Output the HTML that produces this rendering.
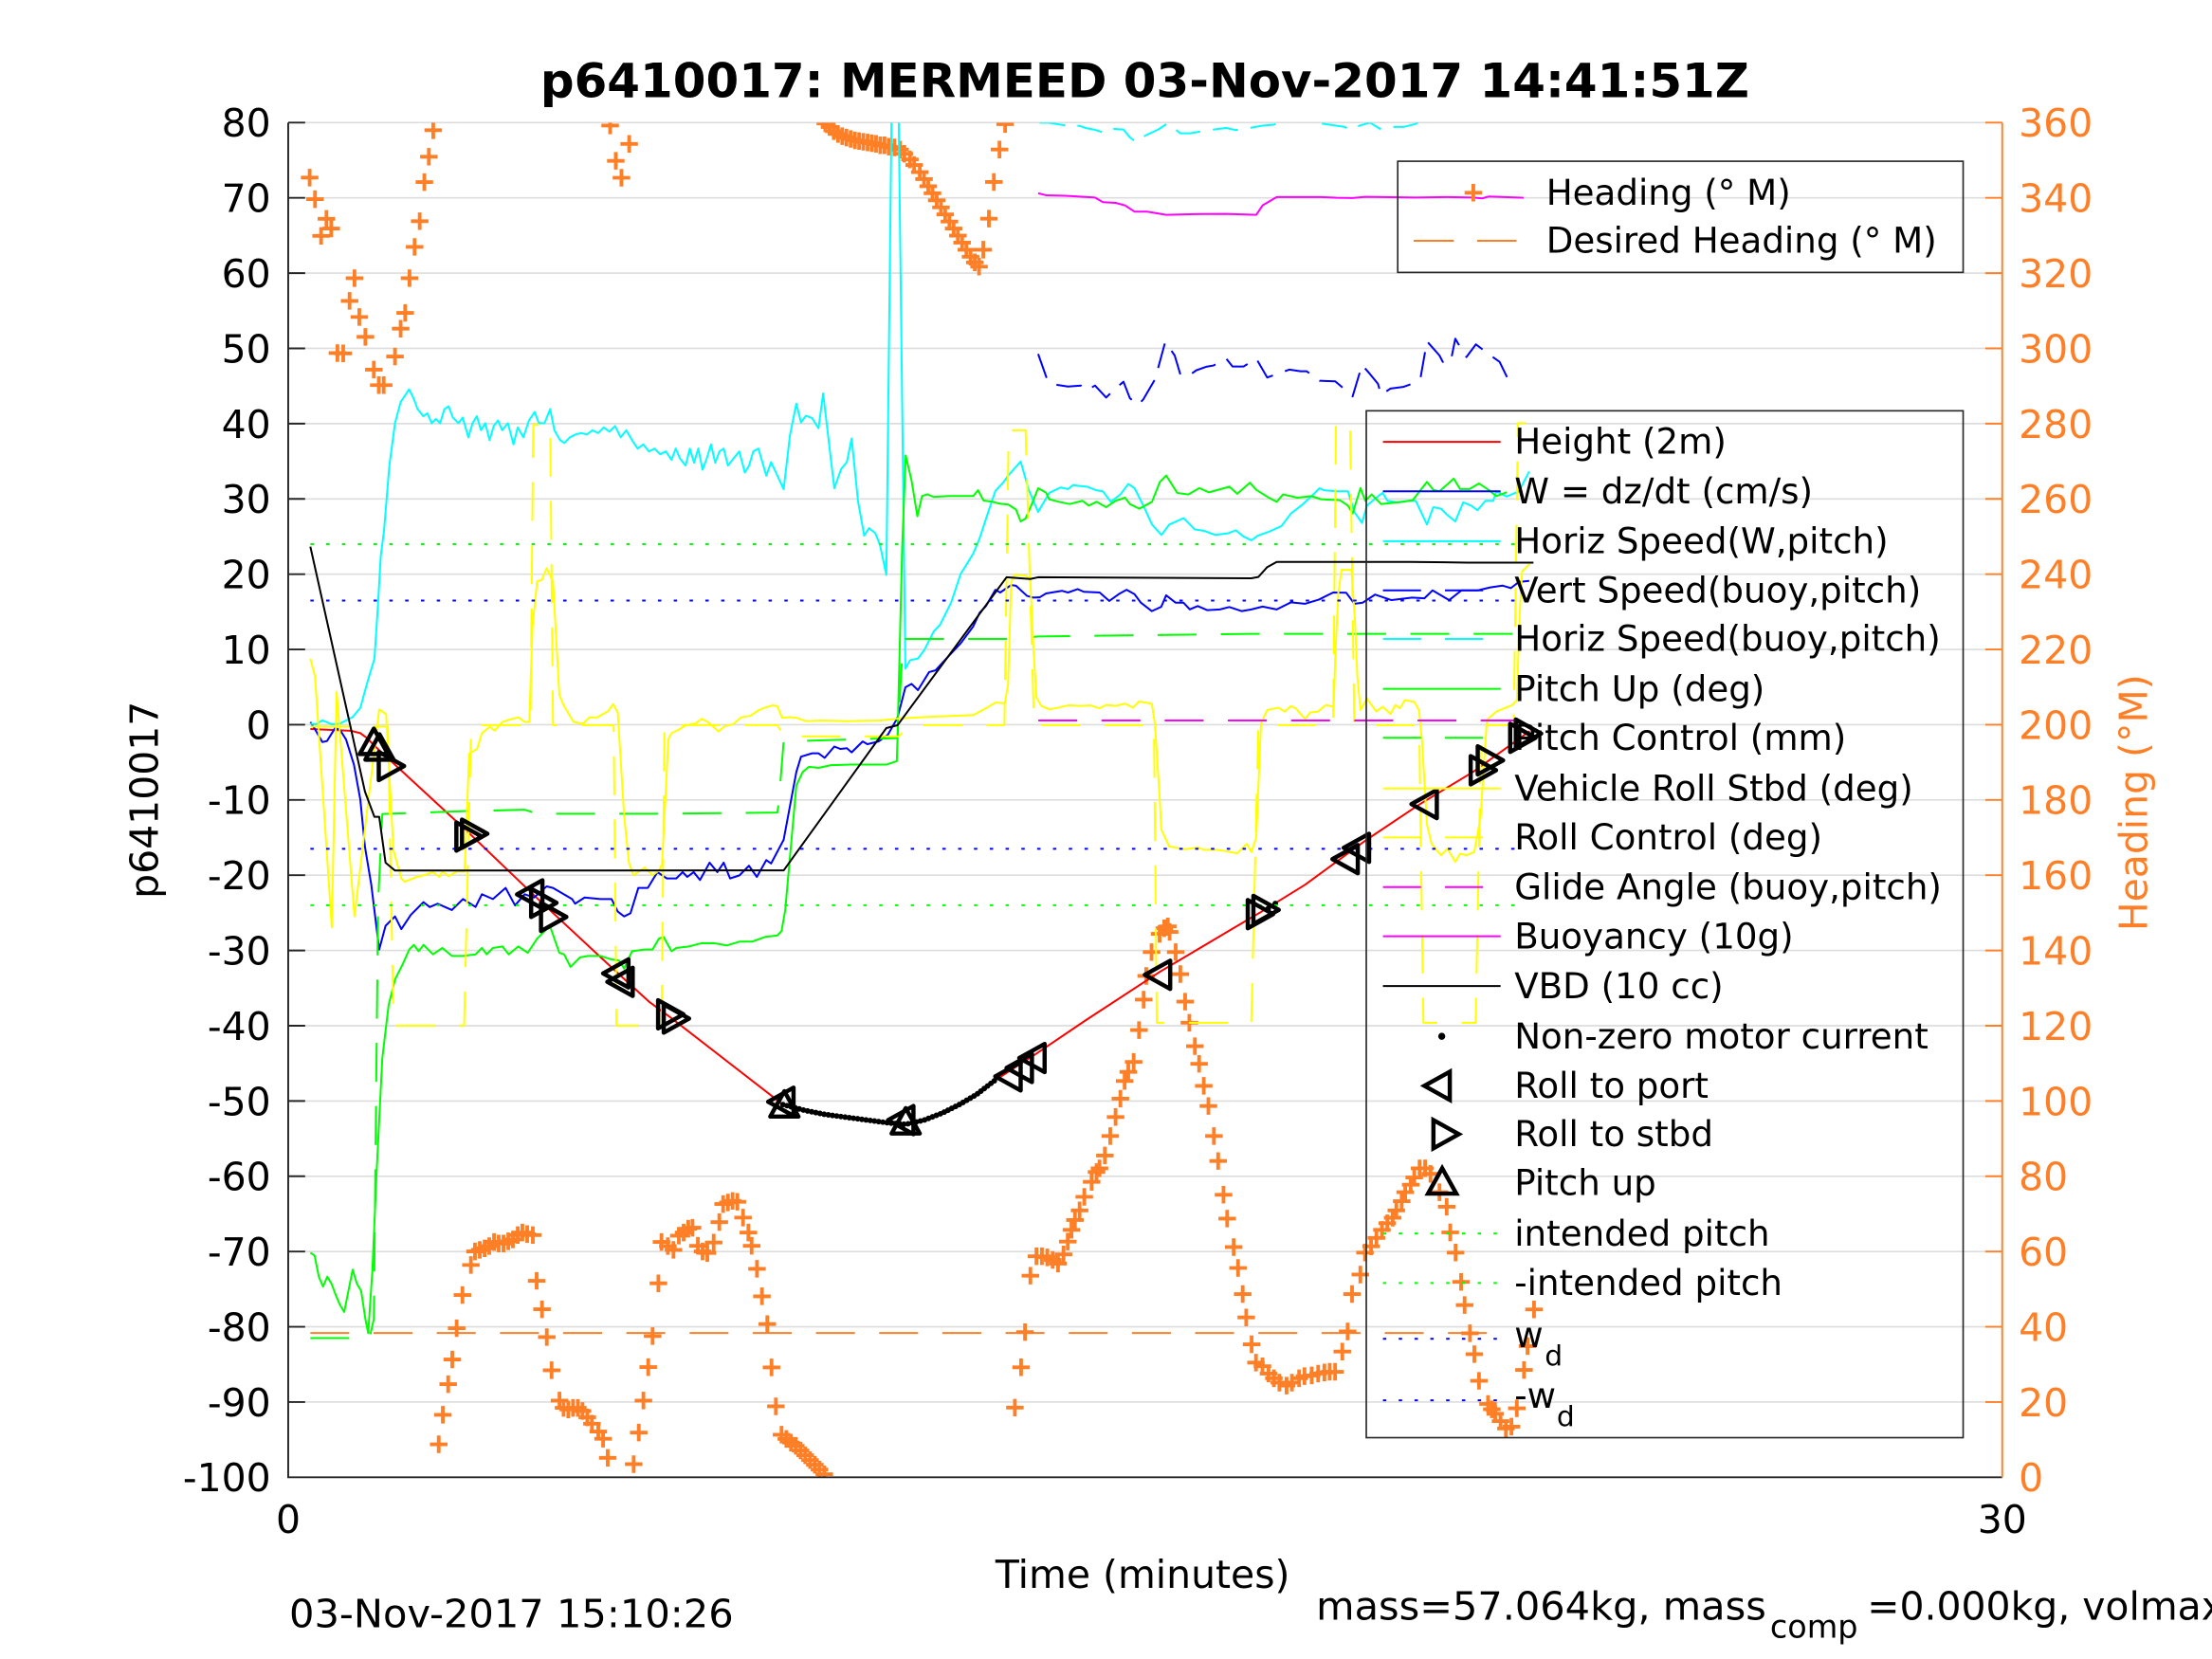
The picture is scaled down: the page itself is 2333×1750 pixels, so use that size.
<!DOCTYPE html>
<html><head><meta charset="utf-8"><style>
html,body{margin:0;padding:0;background:#fff;}
svg{display:block;}
text{font-family:"DejaVu Sans","Liberation Sans",sans-serif;}
</style></head><body>
<svg xmlns="http://www.w3.org/2000/svg" width="2333" height="1750" viewBox="0 0 1568 1176" preserveAspectRatio="none">
<rect x="0" y="0" width="1568" height="1176" fill="#fff"/>
<defs><clipPath id="ax"><rect x="204.3" y="86.9" width="1215" height="960.3"/></clipPath></defs>

<g stroke="#dddddd" stroke-width="1.1" fill="none">
<path d="M204.3 86.9H1419.3M204.3 140.25H1419.3M204.3 193.6H1419.3M204.3 246.95H1419.3M204.3 300.3H1419.3M204.3 353.65H1419.3M204.3 407H1419.3M204.3 460.35H1419.3M204.3 513.7H1419.3M204.3 567.05H1419.3M204.3 620.4H1419.3M204.3 673.75H1419.3M204.3 727.1H1419.3M204.3 780.45H1419.3M204.3 833.8H1419.3M204.3 887.15H1419.3M204.3 940.5H1419.3M204.3 993.85H1419.3"/>
</g>

<g clip-path="url(#ax)" fill="none" stroke-linejoin="round">
<path d="M220 944.9H1065" stroke="#ff7f27" stroke-width="1.35" stroke-dasharray="27.6 17.2"/>
<path stroke="#ff7f27" stroke-width="2.6" d="
M219.5 125.9m-6.2 0h12.4m-6.2-6.2v12.4M223.3 141.2m-6.2 0h12.4m-6.2-6.2v12.4M231.4 155.1m-6.2 0h12.4m-6.2-6.2v12.4M234.8 162m-6.2 0h12.4m-6.2-6.2v12.4M227.6 167.2m-6.2 0h12.4m-6.2-6.2v12.4M251.3 197.2m-6.2 0h12.4m-6.2-6.2v12.4M247.8 213.3m-6.2 0h12.4m-6.2-6.2v12.4M254.7 224.7m-6.2 0h12.4m-6.2-6.2v12.4M259 238.8m-6.2 0h12.4m-6.2-6.2v12.4M239.2 250.3m-6.2 0h12.4m-6.2-6.2v12.4M243.3 250.5m-6.2 0h12.4m-6.2-6.2v12.4M265 262m-6.2 0h12.4m-6.2-6.2v12.4M268.5 273m-6.2 0h12.4m-6.2-6.2v12.4M272 273m-6.2 0h12.4m-6.2-6.2v12.4M280 252.7m-6.2 0h12.4m-6.2-6.2v12.4M284 233m-6.2 0h12.4m-6.2-6.2v12.4M287.2 221.8m-6.2 0h12.4m-6.2-6.2v12.4M290.3 197.2m-6.2 0h12.4m-6.2-6.2v12.4M293.9 175m-6.2 0h12.4m-6.2-6.2v12.4M297.5 156.8m-6.2 0h12.4m-6.2-6.2v12.4M300.8 129.1m-6.2 0h12.4m-6.2-6.2v12.4M304 111.1m-6.2 0h12.4m-6.2-6.2v12.4M307.1 92.3m-6.2 0h12.4m-6.2-6.2v12.4
M432.5 89m-6.2 0h12.4m-6.2-6.2v12.4M436.5 114m-6.2 0h12.4m-6.2-6.2v12.4M440.5 126m-6.2 0h12.4m-6.2-6.2v12.4M446 102m-6.2 0h12.4m-6.2-6.2v12.4
M585 87.5m-6.2 0h12.4m-6.2-6.2v12.4M588 90m-6.2 0h12.4m-6.2-6.2v12.4M591 93m-6.2 0h12.4m-6.2-6.2v12.4M594 95m-6.2 0h12.4m-6.2-6.2v12.4M597 96.5m-6.2 0h12.4m-6.2-6.2v12.4M600 97.5m-6.2 0h12.4m-6.2-6.2v12.4M603 98.5m-6.2 0h12.4m-6.2-6.2v12.4M606 99.5m-6.2 0h12.4m-6.2-6.2v12.4M609 100m-6.2 0h12.4m-6.2-6.2v12.4M612 100.5m-6.2 0h12.4m-6.2-6.2v12.4M615 101m-6.2 0h12.4m-6.2-6.2v12.4M618 101.5m-6.2 0h12.4m-6.2-6.2v12.4M621 102m-6.2 0h12.4m-6.2-6.2v12.4M624 103m-6.2 0h12.4m-6.2-6.2v12.4M627 103m-6.2 0h12.4m-6.2-6.2v12.4M630 104m-6.2 0h12.4m-6.2-6.2v12.4M634 104.5m-6.2 0h12.4m-6.2-6.2v12.4M638 106m-6.2 0h12.4m-6.2-6.2v12.4M641 109m-6.2 0h12.4m-6.2-6.2v12.4M645 113m-6.2 0h12.4m-6.2-6.2v12.4M648 117m-6.2 0h12.4m-6.2-6.2v12.4M652 122m-6.2 0h12.4m-6.2-6.2v12.4M655 127m-6.2 0h12.4m-6.2-6.2v12.4M658 132m-6.2 0h12.4m-6.2-6.2v12.4M661 137m-6.2 0h12.4m-6.2-6.2v12.4M664 142m-6.2 0h12.4m-6.2-6.2v12.4M667 147m-6.2 0h12.4m-6.2-6.2v12.4M670 152m-6.2 0h12.4m-6.2-6.2v12.4M673 157m-6.2 0h12.4m-6.2-6.2v12.4M676 162m-6.2 0h12.4m-6.2-6.2v12.4M679 167m-6.2 0h12.4m-6.2-6.2v12.4M682 172m-6.2 0h12.4m-6.2-6.2v12.4M685 177m-6.2 0h12.4m-6.2-6.2v12.4M688 182m-6.2 0h12.4m-6.2-6.2v12.4M691 186m-6.2 0h12.4m-6.2-6.2v12.4M694 189m-6.2 0h12.4m-6.2-6.2v12.4M697 177m-6.2 0h12.4m-6.2-6.2v12.4M701 155m-6.2 0h12.4m-6.2-6.2v12.4M704.5 129m-6.2 0h12.4m-6.2-6.2v12.4M708.5 106m-6.2 0h12.4m-6.2-6.2v12.4M712.5 88m-6.2 0h12.4m-6.2-6.2v12.4
M311 1023.8m-6.2 0h12.4m-6.2-6.2v12.4M313.9 1002.9m-6.2 0h12.4m-6.2-6.2v12.4M317.7 981.2m-6.2 0h12.4m-6.2-6.2v12.4M320.6 963.7m-6.2 0h12.4m-6.2-6.2v12.4M323.7 941.5m-6.2 0h12.4m-6.2-6.2v12.4M327.8 918m-6.2 0h12.4m-6.2-6.2v12.4M333.8 896.7m-6.2 0h12.4m-6.2-6.2v12.4M336.7 887.1m-6.2 0h12.4m-6.2-6.2v12.4M340.1 886m-6.2 0h12.4m-6.2-6.2v12.4M343.5 884.9m-6.2 0h12.4m-6.2-6.2v12.4M346.8 883.3m-6.2 0h12.4m-6.2-6.2v12.4M350.2 880.4m-6.2 0h12.4m-6.2-6.2v12.4M353.5 881.5m-6.2 0h12.4m-6.2-6.2v12.4M356.9 881.5m-6.2 0h12.4m-6.2-6.2v12.4M360.3 879.9m-6.2 0h12.4m-6.2-6.2v12.4M363.6 878.6m-6.2 0h12.4m-6.2-6.2v12.4M367 875.5m-6.2 0h12.4m-6.2-6.2v12.4M370.3 873.7m-6.2 0h12.4m-6.2-6.2v12.4M373.7 874.8m-6.2 0h12.4m-6.2-6.2v12.4M377.7 875.5m-6.2 0h12.4m-6.2-6.2v12.4M380.4 907.9m-6.2 0h12.4m-6.2-6.2v12.4M384.2 928.1m-6.2 0h12.4m-6.2-6.2v12.4M387.6 947.8m-6.2 0h12.4m-6.2-6.2v12.4M391 971.3m-6.2 0h12.4m-6.2-6.2v12.4M396.6 992.8m-6.2 0h12.4m-6.2-6.2v12.4M399.5 998m-6.2 0h12.4m-6.2-6.2v12.4M402.8 999.1m-6.2 0h12.4m-6.2-6.2v12.4M406.2 998m-6.2 0h12.4m-6.2-6.2v12.4M409.6 998m-6.2 0h12.4m-6.2-6.2v12.4M412.9 1000.2m-6.2 0h12.4m-6.2-6.2v12.4M416.3 1004.7m-6.2 0h12.4m-6.2-6.2v12.4M419.6 1009.2m-6.2 0h12.4m-6.2-6.2v12.4M424.1 1014.8m-6.2 0h12.4m-6.2-6.2v12.4M427.5 1019.9m-6.2 0h12.4m-6.2-6.2v12.4M430.8 1033.4m-6.2 0h12.4m-6.2-6.2v12.4M449.2 1037.9m-6.2 0h12.4m-6.2-6.2v12.4M452.8 1015.5m-6.2 0h12.4m-6.2-6.2v12.4M456.1 992.8m-6.2 0h12.4m-6.2-6.2v12.4M459.5 969.1m-6.2 0h12.4m-6.2-6.2v12.4M462.6 947.1m-6.2 0h12.4m-6.2-6.2v12.4M466.7 909.7m-6.2 0h12.4m-6.2-6.2v12.4M468.9 880.4m-6.2 0h12.4m-6.2-6.2v12.4M473.4 883.3m-6.2 0h12.4m-6.2-6.2v12.4M477.4 886m-6.2 0h12.4m-6.2-6.2v12.4M481.2 875.9m-6.2 0h12.4m-6.2-6.2v12.4M484.6 873.7m-6.2 0h12.4m-6.2-6.2v12.4M487.9 871m-6.2 0h12.4m-6.2-6.2v12.4M490.9 870.3m-6.2 0h12.4m-6.2-6.2v12.4M494.7 883.1m-6.2 0h12.4m-6.2-6.2v12.4M498 887.1m-6.2 0h12.4m-6.2-6.2v12.4M501.4 888.2m-6.2 0h12.4m-6.2-6.2v12.4M505.9 880.8m-6.2 0h12.4m-6.2-6.2v12.4M509.9 866.3m-6.2 0h12.4m-6.2-6.2v12.4M512.6 853.5m-6.2 0h12.4m-6.2-6.2v12.4M516 852.4m-6.2 0h12.4m-6.2-6.2v12.4M519.3 851.3m-6.2 0h12.4m-6.2-6.2v12.4M522.7 851.9m-6.2 0h12.4m-6.2-6.2v12.4M526.7 863.1m-6.2 0h12.4m-6.2-6.2v12.4M530.5 873.7m-6.2 0h12.4m-6.2-6.2v12.4M532.8 883.1m-6.2 0h12.4m-6.2-6.2v12.4M536.6 899.4m-6.2 0h12.4m-6.2-6.2v12.4M540.1 918.9m-6.2 0h12.4m-6.2-6.2v12.4M543.9 938.6m-6.2 0h12.4m-6.2-6.2v12.4M546.9 969.3m-6.2 0h12.4m-6.2-6.2v12.4M550 996.9m-6.2 0h12.4m-6.2-6.2v12.4M554 1017m-6.2 0h12.4m-6.2-6.2v12.4M557.4 1020m-6.2 0h12.4m-6.2-6.2v12.4M560.7 1022.6m-6.2 0h12.4m-6.2-6.2v12.4M564.1 1024.9m-6.2 0h12.4m-6.2-6.2v12.4M567.5 1028.2m-6.2 0h12.4m-6.2-6.2v12.4M570.8 1031.6m-6.2 0h12.4m-6.2-6.2v12.4M574.2 1035m-6.2 0h12.4m-6.2-6.2v12.4M577.6 1038.3m-6.2 0h12.4m-6.2-6.2v12.4M580.9 1041.7m-6.2 0h12.4m-6.2-6.2v12.4M584.3 1045m-6.2 0h12.4m-6.2-6.2v12.4
M719.4 997.8m-6.2 0h12.4m-6.2-6.2v12.4M723.8 969.2m-6.2 0h12.4m-6.2-6.2v12.4M726.6 944.3m-6.2 0h12.4m-6.2-6.2v12.4M730.4 904.3m-6.2 0h12.4m-6.2-6.2v12.4M734.7 890.5m-6.2 0h12.4m-6.2-6.2v12.4M738.6 890.5m-6.2 0h12.4m-6.2-6.2v12.4M742.4 891.3m-6.2 0h12.4m-6.2-6.2v12.4M746.2 893.1m-6.2 0h12.4m-6.2-6.2v12.4M750 895.7m-6.2 0h12.4m-6.2-6.2v12.4M753.9 889.2m-6.2 0h12.4m-6.2-6.2v12.4M756.9 880.1m-6.2 0h12.4m-6.2-6.2v12.4M759.5 871.8m-6.2 0h12.4m-6.2-6.2v12.4M762 864.8m-6.2 0h12.4m-6.2-6.2v12.4M765.3 858m-6.2 0h12.4m-6.2-6.2v12.4M768.6 848.4m-6.2 0h12.4m-6.2-6.2v12.4M773.8 837.8m-6.2 0h12.4m-6.2-6.2v12.4M777.3 830.8m-6.2 0h12.4m-6.2-6.2v12.4M779.4 828.2m-6.2 0h12.4m-6.2-6.2v12.4M783.2 819.1m-6.2 0h12.4m-6.2-6.2v12.4M787 805.3m-6.2 0h12.4m-6.2-6.2v12.4M790.8 791.8m-6.2 0h12.4m-6.2-6.2v12.4M794.2 778.8m-6.2 0h12.4m-6.2-6.2v12.4M797.2 766.3m-6.2 0h12.4m-6.2-6.2v12.4M799.8 759.8m-6.2 0h12.4m-6.2-6.2v12.4M803.6 752.8m-6.2 0h12.4m-6.2-6.2v12.4M807.4 730.2m-6.2 0h12.4m-6.2-6.2v12.4M810.7 708.6m-6.2 0h12.4m-6.2-6.2v12.4M812.5 691.8m-6.2 0h12.4m-6.2-6.2v12.4M816.3 674.9m-6.2 0h12.4m-6.2-6.2v12.4M822 662m-6.2 0h12.4m-6.2-6.2v12.4M825.3 658m-6.2 0h12.4m-6.2-6.2v12.4M827.8 656.7m-6.2 0h12.4m-6.2-6.2v12.4M829.1 660.6m-6.2 0h12.4m-6.2-6.2v12.4M833.4 674.9m-6.2 0h12.4m-6.2-6.2v12.4M836.7 690.5m-6.2 0h12.4m-6.2-6.2v12.4M840.1 710m-6.2 0h12.4m-6.2-6.2v12.4M843.1 725m-6.2 0h12.4m-6.2-6.2v12.4M847 741.6m-6.2 0h12.4m-6.2-6.2v12.4M850 754.1m-6.2 0h12.4m-6.2-6.2v12.4M853.3 769.7m-6.2 0h12.4m-6.2-6.2v12.4M856.6 784m-6.2 0h12.4m-6.2-6.2v12.4M860.5 805.3m-6.2 0h12.4m-6.2-6.2v12.4M863.5 823m-6.2 0h12.4m-6.2-6.2v12.4M867.3 846.9m-6.2 0h12.4m-6.2-6.2v12.4M869.9 863.8m-6.2 0h12.4m-6.2-6.2v12.4M874.5 884m-6.2 0h12.4m-6.2-6.2v12.4M877.6 898.8m-6.2 0h12.4m-6.2-6.2v12.4M880.9 917.3m-6.2 0h12.4m-6.2-6.2v12.4M883.4 933.9m-6.2 0h12.4m-6.2-6.2v12.4M887.2 952.9m-6.2 0h12.4m-6.2-6.2v12.4M890.3 965.9m-6.2 0h12.4m-6.2-6.2v12.4M894.9 968.5m-6.2 0h12.4m-6.2-6.2v12.4M899.2 973.7m-6.2 0h12.4m-6.2-6.2v12.4M903 977m-6.2 0h12.4m-6.2-6.2v12.4M906.9 980.1m-6.2 0h12.4m-6.2-6.2v12.4M912 982.2m-6.2 0h12.4m-6.2-6.2v12.4M915.8 980.1m-6.2 0h12.4m-6.2-6.2v12.4M920.9 977m-6.2 0h12.4m-6.2-6.2v12.4M924.7 975.5m-6.2 0h12.4m-6.2-6.2v12.4M929.8 975m-6.2 0h12.4m-6.2-6.2v12.4M934.4 973.7m-6.2 0h12.4m-6.2-6.2v12.4M938.8 972.9m-6.2 0h12.4m-6.2-6.2v12.4M942.6 972.4m-6.2 0h12.4m-6.2-6.2v12.4M946.4 972.4m-6.2 0h12.4m-6.2-6.2v12.4M951.5 958.1m-6.2 0h12.4m-6.2-6.2v12.4M955.3 943.8m-6.2 0h12.4m-6.2-6.2v12.4M958.4 917.3m-6.2 0h12.4m-6.2-6.2v12.4M964.3 903.5m-6.2 0h12.4m-6.2-6.2v12.4M967.6 887.9m-6.2 0h12.4m-6.2-6.2v12.4M971.9 883.5m-6.2 0h12.4m-6.2-6.2v12.4M975.7 877.5m-6.2 0h12.4m-6.2-6.2v12.4M979.6 871.8m-6.2 0h12.4m-6.2-6.2v12.4M983.4 867.1m-6.2 0h12.4m-6.2-6.2v12.4M987.2 863.2m-6.2 0h12.4m-6.2-6.2v12.4M989.8 858m-6.2 0h12.4m-6.2-6.2v12.4M993.6 851.5m-6.2 0h12.4m-6.2-6.2v12.4M996.1 845.1m-6.2 0h12.4m-6.2-6.2v12.4M1000 839.8m-6.2 0h12.4m-6.2-6.2v12.4M1002.5 834.7m-6.2 0h12.4m-6.2-6.2v12.4M1006.3 828.2m-6.2 0h12.4m-6.2-6.2v12.4M1010.2 828.2m-6.2 0h12.4m-6.2-6.2v12.4M1014 832.1m-6.2 0h12.4m-6.2-6.2v12.4M1020.4 845.1m-6.2 0h12.4m-6.2-6.2v12.4M1025.5 855.4m-6.2 0h12.4m-6.2-6.2v12.4M1028 873.6m-6.2 0h12.4m-6.2-6.2v12.4M1031.8 887.9m-6.2 0h12.4m-6.2-6.2v12.4M1035.7 908.7m-6.2 0h12.4m-6.2-6.2v12.4M1038.2 925.1m-6.2 0h12.4m-6.2-6.2v12.4M1042 945.1m-6.2 0h12.4m-6.2-6.2v12.4M1045.1 959.9m-6.2 0h12.4m-6.2-6.2v12.4M1048.4 978.8m-6.2 0h12.4m-6.2-6.2v12.4M1054.8 995.2m-6.2 0h12.4m-6.2-6.2v12.4M1057.5 999m-6.2 0h12.4m-6.2-6.2v12.4M1059.9 1002.2m-6.2 0h12.4m-6.2-6.2v12.4M1063.7 1007.4m-6.2 0h12.4m-6.2-6.2v12.4M1067.5 1012.6m-6.2 0h12.4m-6.2-6.2v12.4M1071.4 1011.3m-6.2 0h12.4m-6.2-6.2v12.4M1075.2 998.3m-6.2 0h12.4m-6.2-6.2v12.4M1080.3 971.1m-6.2 0h12.4m-6.2-6.2v12.4M1082.8 954.2m-6.2 0h12.4m-6.2-6.2v12.4M1087.4 928.2m-6.2 0h12.4m-6.2-6.2v12.4"/>

<polyline stroke="#ff0000" stroke-width="1.35" points="220,516.8 248.6,518 255.4,519.7 260,523 265.4,528.6 333,591 380,636 437,689 460,710 475,721 555,783 570,787 585,790 600,792 615,794 630,796 642,797 655,794 668,789 680,783 692,776 705,766 716,759 725,753 733,748 770,723 822,689 873.7,658.3 893,647 925.2,627.1 967.8,595.9 1005.9,570.4 1044,547.3 1084.3,518.3"/>
<polyline stroke="#0000ff" stroke-width="1.35" points="220,511.8 222.9,516.3 228.5,526 231.8,525.3 237.4,516.3 240.8,517 245.3,524.2 250.9,542 255.4,566.7 258.7,600.3 263.2,627.2 268.8,673.1 273.3,656.3 280,649.6 284.5,658.6 291.2,648.5 300.2,639.5 304.6,643 310.2,640.6 320.3,645.1 328.2,637.3 337.1,642.9 341.6,633.9 349.4,637.3 358.4,629.4 365.1,641.8 371.9,633.9 378.6,636.2 387.5,628.3 392,629.4 405.5,637.3 407.7,640.6 414.4,636.2 425.6,637.3 433.5,637.3 437.9,646.2 442.4,649.6 446.9,647.4 452.5,629.4 459.2,629.4 466,618.2 472.7,622.7 479.4,622.7 483.9,618.2 487.2,621.6 491.7,618.2 496.2,623.8 503,611.5 508.5,618.2 513,611.5 517.5,622.7 524.2,620.5 530.9,613.7 536.5,621.6 543.2,609.7 546.6,612.1 555.5,595.3 564.5,547.2 567.8,536.4 575.7,534 580.2,534 584.6,537.2 591.4,529.2 595.8,530.9 600.3,530.4 603.7,533.3 611.5,525.6 614.9,527.5 622.7,525.6 629.4,520.8 636.2,508.8 641.8,487.2 646.2,484.8 650.7,489.2 658.6,476.4 663.1,475.2 672,465.6 681,456 689.9,444 694.4,434.4 698.9,429.6 705.6,418.1 709,420 716.8,414.7 720.2,415.2 728,422.4 732.5,423.6 737,423.4 741.5,420.7 752.7,418.8 757.1,420 763.9,417.6 768.3,419.5 779.5,420 786.3,426 793,421.2 798.6,418.1 804.2,421.2 808.7,427.2 816.5,433.2 823.2,430.1 826.6,422 833.3,427.2 838.9,427.2 843.4,432 849,429.6 855.7,432.5 864.7,432 871.4,430.3 880.3,433.2 887,432 895,430 905,432 915,427 925,428 935,425 945,420 954.3,420.2 960.1,428 966,427.2 974.7,421.5 986.4,425.4 1001,423.6 1009.7,424.1 1015.5,418.5 1027.2,425.4 1036,418.5 1047.6,418.5 1056.4,416.4 1065,415.1 1071,416.9 1076.7,412.5 1084,411.8"/>
<polyline stroke="#00ffff" stroke-width="1.35" points="220,513 224,513.4 228.5,510.7 235.2,513.4 240.8,513 249.8,508.5 255.4,501.8 261,481.6 265.4,467 267.7,432.3 269.9,394.2 272.2,376.3 276,330 280,300 284,285 288,279 290,276 293,282 296,290 300,295 303,293 306,300 309,297 312,300 315,290 318,288 321,296 325,300 328,296 332,310 335,300 338,295 341,305 344,300 347,312 350,302 353,298 356,305 360,300 364,315 367,303 371,310 375,298 379,292 382,300 386,300 390,290 393,305 397,312 400,314 404,310 408,308 412,307 416,308 420,305 424,307 428,303 432,306 436,302 440,310 444,305 448,312 452,318 456,315 460,320 464,318 468,322 472,320 476,326 479,318 482,325 486,330 489,318 492,328 495,318 498,333 501,325 504,315 507,328 510,320 513,318 516,330 520,325 524,320 528,335 531,330 534,320 537.6,318 543.2,337.2 546.6,327.6 555.5,346.8 560,308.4 564.5,286.1 567.8,299.5 571.2,294.7 575.7,296.4 580.2,303.6 583.5,278.9 591.4,346.1 596.3,332.4 600.3,327.6 603.7,310.8 608.2,355.2 612.6,379.7 616,374.4 620.5,378 623.8,386.4 628.3,407.5 632,80 637,80 641.8,474 645.1,468 650.7,466.8 655.2,460.8 661.9,447.6 666.4,442.8 674.2,427.2 681,406.8 689.9,392.4 694.4,381.6 701.1,361.2 705.6,348 711.2,342 714.6,337.2 723.5,327.1 729.2,347.2 735.9,362.9 743.8,349.4 751.6,345.6 757.2,346.7 760.6,343.8 765,344.5 770.6,345 777.4,347.6 781.8,348.3 787.4,355.7 794.2,350.5 799.8,343.1 804.2,346 811,359.5 816.6,371.8 823.3,379.2 828.9,371.8 839,367.3 846.8,375.2 853.5,376.3 861.4,379.2 870.3,378.1 876,375.9 881.5,380.3 887.1,383 891.6,379.7 898.3,377.4 908.4,372.9 915.1,364 923,357.9 929.7,351.7 935.3,346.1 938.7,347.6 947.6,348.3 955.5,348.3 960,362.9 965.5,370.7 968.9,358.4 975.6,352.8 980.1,349.4 983.5,355 990.2,356.1 998,355 1003.6,355 1011.5,371.8 1016,359.5 1021.5,360.6 1026,365.1 1031.6,369.6 1037.2,356.1 1042.8,358.4 1047.3,361.7 1053,355 1058.5,355 1060.7,348.3 1068,352 1076.7,348.3 1084,334.2"/>
<polyline stroke="#0000ff" stroke-width="1.35" stroke-dasharray="18 9" points="735.9,250.9 742.6,269.9 749.4,272.8 757,274 766.2,273.3 770.6,276.6 776.2,273.3 784.1,281.8 790,276 796.4,270.6 800.9,282.2 806.5,287.1 810.3,283.3 818.8,268.8 826,242.3 832.7,252 836.7,265.4 842.3,266.5 848,262.5 855,260 860.2,259.1 864.7,256.5 869.2,254.2 873.7,259.8 881.5,259.8 890.5,254.2 898.3,267.6 907.3,264.3 914,262 921.9,263.2 926.3,263.2 935.3,269.9 946.5,270.3 952,275 958.8,281 965.5,258.7 971,265 976.8,272.1 979,279.9 985.7,275.4 994.7,274.3 1001,272 1007,267.6 1011.5,241.9 1016,247 1020.4,252 1022.7,256.5 1028.3,256.5 1031.6,240.1 1035,246 1039.5,253.1 1046.2,244.1 1055.2,250.9 1063,256.5 1069,268.8"/>
<polyline stroke="#00ffff" stroke-width="1.35" stroke-dasharray="18 9" points="737,87 742.6,86.9 759.4,89.6 765,89.1 769.5,90.7 776,92 784.1,94.5 789.7,91.4 796.4,91.8 800.9,97.4 805.4,100.8 812,96 821,91.8 827.8,87.3 836.7,94.5 843.5,94.5 852,93 860.2,91.8 869.2,90.7 875.9,92.2 886,90.7 895,89 902.8,88.4 906.2,86.9 915,82 925,82 932,86.9 947.6,89.1 953.2,90 957.7,92.2 964,89 971.1,86.9 979,91.8 986.8,90 994.7,90 1003,88 1010,84"/>
<polyline stroke="#00ff00" stroke-width="1.35" points="220,888 223,890 226,905 229,912 232,905 235,910 238,918 241,925 244,930 247,915 250,900 253,910 256,915 259,935 261,945 264,900 267,830 271,750 275.5,712.3 280,694.4 285.6,683.2 290.1,673.1 293.4,669.8 296.8,674.3 300.2,669.8 306.9,676.5 313.6,672 320.3,677.6 328.2,677.6 337.1,676.5 341.6,672 345,676.5 349.4,672 356.2,670.9 360.6,676.5 367.4,670.9 374.1,675.4 380.8,665.3 389.8,656.3 396.5,675.4 399.9,676.5 404.4,685.4 411.1,678.7 416.7,677.6 425.6,677.6 432.3,679.8 439,681 442.4,686.6 448,674.3 457,673.1 462.6,673.1 467.1,665.3 470.4,664.2 476,674.3 479.4,672 488.3,670.9 497.3,668.6 506.3,668.6 515.2,670.2 524.2,667.5 533.1,667.5 542.1,664.2 551,663.1 554,660 556.6,645.2 564.5,556.8 569,547.2 573.4,543.6 580.2,544.3 589.1,542.4 602.6,542 616,542 628.3,542 635.7,539.6 636.2,523.2 639.5,388.8 642,322.8 646.2,340.8 650.3,366 653.6,351.6 657.4,350.4 661.9,352.3 672,351.6 681,351.6 689.9,351.6 693.3,347.5 697.1,354.7 703.4,355.7 709,357.1 714.6,357.6 720.2,361.2 723.5,369.6 726.9,367.7 730.3,360 735.9,346.1 741.5,349.2 743.8,353.9 750.5,355.7 758.3,357.3 767.3,355 771.8,358.4 777.4,355.7 784.1,359.5 790.8,355 797.5,352.8 800.9,357.3 807.6,360.6 816.6,355.7 822.2,341.6 826.7,337.1 834.5,349.4 842.3,350.5 850.2,346 856.9,349 871.5,345 877,350 886,342.2 890.5,347.2 899.4,352.8 905,355.7 909.5,350.5 919.6,352.8 929.7,351.7 936.4,353.9 949.9,354.6 955.5,358.4 958.8,364 964.4,346 967.8,355 972.3,350.5 979,357.3 985.7,356.6 994.7,355.7 1001.4,354.6 1011.5,341.6 1016,347.2 1020.4,348.3 1030.5,339.3 1035,346.7 1041.7,346.7 1048.4,342.7 1055.1,347.2 1060.7,351.7 1068,349"/>
<polyline stroke="#00ff00" stroke-width="1.35" stroke-dasharray="27.6 17.2" points="220,948.5 262,948.5 265,935 268,640 271,577 329,575 372,574 381,576.8 468,576.8 551,576 552,569 555.5,525.6 636.2,523.2 639.5,465.6 641.8,452.9 719,452.9 735.9,451.2 887,449.3 1080,449.3"/>
<polyline stroke="#ffff00" stroke-width="1.35" points="220,467 223.3,479.3 235.2,657.4 238.6,490.5 251.3,649.6 262,560 268.8,502.9 273.7,506.2 278.9,602.6 284.5,622.7 286.7,625 295.7,621.6 300.2,620.5 306.9,618.2 311.4,621.6 313.6,617.8 318.1,621.1 323.7,617.8 329.3,617.8 332.6,534.2 338.2,530.9 341.6,519.7 347.2,515.2 350.6,517.9 356.2,511.8 360.6,510.3 367.4,508.5 371.9,511.8 375.2,511.8 377.5,443.5 380.8,412.1 384.2,411 387.5,402.7 392,412.1 396.5,492.8 399.9,500.6 406.6,511.8 413.3,513 417.8,508.5 423.4,508.5 431.2,504 434.6,499.1 437.9,505.1 442.4,577.9 445.8,611.5 449.1,620.5 457,614.9 462.6,620.5 467.1,617.1 469.3,612.6 473.8,524.1 476,519.7 481.6,517 486.1,514.1 492.8,513 497.3,509.6 501.8,511.8 509.3,518.5 513.8,514.7 519.7,513.4 525.3,508.5 532,507.4 537.6,503.5 542.1,501.7 547.7,500 551,500.6 554.4,508.8 560,508.4 564.5,508.8 571.2,511.2 582.4,510.8 600.3,511.2 622.7,510.8 638.4,509.3 654.1,508.4 672,507.6 689.9,506.9 698.9,502.1 705.6,498 712.3,498.5 714.6,484.8 716.8,412.8 719.1,407.5 726.9,408 730.3,410.4 732.5,458.4 734.7,494.4 738.1,500.4 743.7,502.8 750.4,501.6 757.1,500 766.1,500.4 772.8,500 779.5,502.1 784,499.7 790.7,500.4 797.5,498.8 803.1,501.6 807.5,497.3 816.5,498.8 818.7,513.6 822.1,566.4 823.2,588 828.8,600 840,602 849,600.8 853.5,602.4 862.4,602.4 866.9,603 877,604.9 883.8,598.2 887.1,604 890.5,593.5 893.9,512.5 898.3,503.3 906.2,501.7 910.7,504.4 915.1,500.5 918.5,502.1 925.2,509.8 928.6,505.1 934.2,504.4 939.8,499.8 945.4,501 946.5,466 948.7,420 951,404 958,404 960.5,440 962.2,480 964.4,503.3 968.9,495.2 975.6,504.4 980.1,501 985.7,506.1 989.1,499.8 992.4,502.1 995.8,496.3 1002.5,497.5 1005.9,503.3 1008.1,526.4 1011.5,584.3 1014.8,598.2 1021.5,606.3 1026,601.6 1031.6,610.9 1035,605.1 1039.5,606.3 1045,604 1049.5,579.7 1054,510.2 1060.7,504.4 1066.3,502.1 1072,499.8 1075.3,496.3 1077,440 1079,405 1084,400"/>
<polyline stroke="#ffff00" stroke-width="1.35" stroke-dasharray="27.6 17.2" points="220,515 275,515 279,727 329,727 334,514 376,514 378,301 390,301 392,514 435,514 437,727 469,727 471,514 551,514 556,522 637,522 645,514 712,514 715,305 727,305 733,514 818,514 820,725 887,725 892,514 945,514 947,300 957,300 960,514 1006,514 1009,725 1046,725 1050,514 1073,514 1076,300 1082,300"/>
<path d="M736 510.7H1075" stroke="#ff00ff" stroke-width="1.35" stroke-dasharray="27.6 17.2"/>
<polyline stroke="#ff00ff" stroke-width="1.35" points="735.9,137 741.5,138.4 755,138.8 763.9,139.3 776.2,140 781.8,143.3 790.8,143.8 797.5,145.6 804.2,150 813.2,150 826.7,152.3 846.8,151.8 869.2,151.6 890.5,152.3 895,145.6 905,139.7 936.4,139.7 947.6,140.2 958.8,140.4 967.8,139.5 1003.6,140 1026,139.7 1044,140 1050.7,140.6 1055.2,139.3 1080,140.2"/>
<polyline stroke="#000000" stroke-width="1.35" points="220,387.5 258.7,561.1 265.4,579 268.8,579 273.3,611.5 280,617.1 555.5,617 628.3,516.1 636.2,514.1 713.5,409.2 730.3,410.4 735.9,409.2 887,409.9 892,409 898.3,402 905,398.3 1000,398.3 1040,398.8 1087,398.8"/>
<polyline stroke="#000" stroke-width="4" stroke-linecap="round" stroke-dasharray="0 3" points="555,783 570,787 585,790 600,792 615,794 630,796 642,797 655,794 668,789 680,783 692,776 705,766"/>
<circle cx="904" cy="640.5" r="2" fill="#000"/><circle cx="899" cy="644" r="2" fill="#000"/>
<path d="M220 385.7H1082M220 641.7H1082" stroke="#00ff00" stroke-width="1.35" stroke-dasharray="2.4 8.8"/>
<path d="M220 425.7H1082M220 601.7H1082" stroke="#0000ff" stroke-width="1.35" stroke-dasharray="2.4 8.8"/>
<g stroke="#000" stroke-width="3" fill="none">
<polygon transform="translate(265,527)" points="0,-10.5 -10,7.5 10,7.5"/>
<polygon transform="translate(269,531)" points="0,-10.5 -10,7.5 10,7.5"/>
<polygon transform="translate(276,543)" points="-7.5,-10 -7.5,10 10.5,0"/>
<polygon transform="translate(331,593)" points="-7.5,-10 -7.5,10 10.5,0"/>
<polygon transform="translate(335,591)" points="-7.5,-10 -7.5,10 10.5,0"/>
<polygon transform="translate(377,634)" points="7.5,-10 7.5,10 -10.5,0"/>
<polygon transform="translate(384,640)" points="-7.5,-10 -7.5,10 10.5,0"/>
<polygon transform="translate(391,650)" points="-7.5,-10 -7.5,10 10.5,0"/>
<polygon transform="translate(438,690)" points="7.5,-10 7.5,10 -10.5,0"/>
<polygon transform="translate(441,696)" points="7.5,-10 7.5,10 -10.5,0"/>
<polygon transform="translate(474,719)" points="-7.5,-10 -7.5,10 10.5,0"/>
<polygon transform="translate(478,722)" points="-7.5,-10 -7.5,10 10.5,0"/>
<polygon transform="translate(555,781)" points="7.5,-10 7.5,10 -10.5,0"/>
<polygon transform="translate(556,784)" points="0,-10.5 -10,7.5 10,7.5"/>
<polygon transform="translate(640,794)" points="7.5,-10 7.5,10 -10.5,0"/>
<polygon transform="translate(642,796)" points="0,-10.5 -10,7.5 10,7.5"/>
<polygon transform="translate(716,763)" points="7.5,-10 7.5,10 -10.5,0"/>
<polygon transform="translate(724,757)" points="7.5,-10 7.5,10 -10.5,0"/>
<polygon transform="translate(733,750)" points="7.5,-10 7.5,10 -10.5,0"/>
<polygon transform="translate(822,691)" points="7.5,-10 7.5,10 -10.5,0"/>
<polygon transform="translate(892,648)" points="-7.5,-10 -7.5,10 10.5,0"/>
<polygon transform="translate(896,645)" points="-7.5,-10 -7.5,10 10.5,0"/>
<polygon transform="translate(955,609)" points="7.5,-10 7.5,10 -10.5,0"/>
<polygon transform="translate(963,601)" points="7.5,-10 7.5,10 -10.5,0"/>
<polygon transform="translate(1011,570)" points="7.5,-10 7.5,10 -10.5,0"/>
<polygon transform="translate(1050,546)" points="-7.5,-10 -7.5,10 10.5,0"/>
<polygon transform="translate(1055,539)" points="-7.5,-10 -7.5,10 10.5,0"/>
<polygon transform="translate(1078,523)" points="-7.5,-10 -7.5,10 10.5,0"/>
<polygon transform="translate(1082,520)" points="-7.5,-10 -7.5,10 10.5,0"/>
</g>
</g>

<g stroke="#262626" stroke-width="1.3" fill="none">
<path d="M204.3 86.9V1047.2H1419.3"/>
<path d="M204.3 86.9h12M204.3 140.25h12M204.3 193.6h12M204.3 246.95h12M204.3 300.3h12M204.3 353.65h12M204.3 407h12M204.3 460.35h12M204.3 513.7h12M204.3 567.05h12M204.3 620.4h12M204.3 673.75h12M204.3 727.1h12M204.3 780.45h12M204.3 833.8h12M204.3 887.15h12M204.3 940.5h12M204.3 993.85h12"/>
</g>
<g stroke="#ff7f27" stroke-width="1.3" fill="none">
<path d="M1419.3 86.9V1047.2"/>
<path d="M1419.3 86.9h-12M1419.3 140.25h-12M1419.3 193.6h-12M1419.3 246.95h-12M1419.3 300.3h-12M1419.3 353.65h-12M1419.3 407h-12M1419.3 460.35h-12M1419.3 513.7h-12M1419.3 567.05h-12M1419.3 620.4h-12M1419.3 673.75h-12M1419.3 727.1h-12M1419.3 780.45h-12M1419.3 833.8h-12M1419.3 887.15h-12M1419.3 940.5h-12M1419.3 993.85h-12"/>
</g>

<g font-size="27.5" fill="#000" text-anchor="end">
<text x="192" y="96.9">80</text><text x="192" y="150.25">70</text><text x="192" y="203.6">60</text><text x="192" y="256.95">50</text><text x="192" y="310.3">40</text><text x="192" y="363.65">30</text><text x="192" y="417">20</text><text x="192" y="470.35">10</text><text x="192" y="523.7">0</text><text x="192" y="577.05">-10</text><text x="192" y="630.4">-20</text><text x="192" y="683.75">-30</text><text x="192" y="737.1">-40</text><text x="192" y="790.45">-50</text><text x="192" y="843.8">-60</text><text x="192" y="897.15">-70</text><text x="192" y="950.5">-80</text><text x="192" y="1003.85">-90</text><text x="192" y="1057.2">-100</text>
</g>
<g font-size="27.5" fill="#ff7f27">
<text x="1431" y="96.9">360</text><text x="1431" y="150.25">340</text><text x="1431" y="203.6">320</text><text x="1431" y="256.95">300</text><text x="1431" y="310.3">280</text><text x="1431" y="363.65">260</text><text x="1431" y="417">240</text><text x="1431" y="470.35">220</text><text x="1431" y="523.7">200</text><text x="1431" y="577.05">180</text><text x="1431" y="630.4">160</text><text x="1431" y="683.75">140</text><text x="1431" y="737.1">120</text><text x="1431" y="790.45">100</text><text x="1431" y="843.8">80</text><text x="1431" y="897.15">60</text><text x="1431" y="950.5">40</text><text x="1431" y="1003.85">20</text><text x="1431" y="1057.2">0</text>
</g>
<g font-size="27.5" fill="#000" text-anchor="middle">
<text x="204.3" y="1086.5">0</text>
<text x="1419.3" y="1086.5">30</text>
<text x="810" y="1125.7">Time (minutes)</text>
<text transform="translate(112,567) rotate(-90)">p6410017</text>
</g>
<text transform="translate(1522,569) rotate(-90)" font-size="27.5" fill="#ff7f27" text-anchor="middle">Heading (°M)</text>
<text x="811.5" y="69" font-size="33.5" font-weight="bold" text-anchor="middle" textLength="857" lengthAdjust="spacingAndGlyphs" fill="#000">p6410017: MERMEED 03-Nov-2017 14:41:51Z</text>
<text x="205" y="1153.5" font-size="27.5" fill="#000" textLength="315" lengthAdjust="spacingAndGlyphs">03-Nov-2017 15:10:26</text>
<text x="933" y="1148" font-size="27.5" fill="#000" textLength="319" lengthAdjust="spacingAndGlyphs">mass=57.064kg, mass</text>
<text x="1254.7" y="1161" font-size="22.5" fill="#000">comp</text>
<text x="1323.5" y="1148" font-size="27.5" fill="#000">=0.000kg, volmax=52000cc</text>

<rect x="990.8" y="114.3" width="400.8" height="78.8" fill="none" stroke="#262626" stroke-width="1.1"/>
<path d="M1044.4 136.6m-6.2 0h12.4m-6.2-6.2v12.4" stroke="#ff7f27" stroke-width="2.6" fill="none"/>
<path d="M1002.1 170.7H1075" stroke="#ff7f27" stroke-width="1.35" stroke-dasharray="28.5 16.5"/>
<g font-size="25" fill="#000">
<text x="1096" y="145.1">Heading (° M)</text>
<text x="1096" y="179.2">Desired Heading (° M)</text>
</g>

<rect x="968.5" y="291.2" width="423.1" height="727.9" fill="none" stroke="#262626" stroke-width="1.1"/>
<g fill="none" stroke-width="1.35">
<path d="M980.3 313.2H1063.7" stroke="#ff0000"/>
<path d="M980.3 348.3H1063.7" stroke="#0000ff"/>
<path d="M980.3 383.6H1063.7" stroke="#00ffff"/>
<path d="M980.3 418.5H1063.7" stroke="#0000ff" stroke-dasharray="27 17"/>
<path d="M980.3 452.9H1063.7" stroke="#00ffff" stroke-dasharray="27 17"/>
<path d="M980.3 488.3H1063.7" stroke="#00ff00"/>
<path d="M980.3 523H1063.7" stroke="#00ff00" stroke-dasharray="27 17"/>
<path d="M980.3 558.9H1063.7" stroke="#ffff00"/>
<path d="M980.3 593.6H1063.7" stroke="#ffff00" stroke-dasharray="27 17"/>
<path d="M980.3 628.8H1063.7" stroke="#ff00ff" stroke-dasharray="27 17"/>
<path d="M980.3 663.7H1063.7" stroke="#ff00ff"/>
<path d="M980.3 699H1063.7" stroke="#000000"/>
<path d="M980.3 874.4H1063.7M980.3 909.5H1063.7" stroke="#00ff00" stroke-dasharray="2.4 8.8"/>
<path d="M980.3 949H1063.7M980.3 992.6H1063.7" stroke="#0000ff" stroke-dasharray="2.4 8.8"/>
</g>
<circle cx="1022" cy="734.6" r="2.5" fill="#000"/>
<g stroke="#000" stroke-width="3" fill="none">
<polygon transform="translate(1020.2,769.7)" points="7.5,-10 7.5,10 -10.5,0"/>
<polygon transform="translate(1023.6,804)" points="-7.5,-10 -7.5,10 10.5,0"/>
<polygon transform="translate(1022.3,838.6)" points="0,-10.5 -10,7.5 10,7.5"/>
</g>
<g font-size="25" fill="#000">
<text x="1073.5" y="321.7">Height (2m)</text>
<text x="1073.5" y="356.8">W = dz/dt (cm/s)</text>
<text x="1073.5" y="392.1">Horiz Speed(W,pitch)</text>
<text x="1073.5" y="427">Vert Speed(buoy,pitch)</text>
<text x="1073.5" y="461.4">Horiz Speed(buoy,pitch)</text>
<text x="1073.5" y="496.8">Pitch Up (deg)</text>
<text x="1073.5" y="531.5">Pitch Control (mm)</text>
<text x="1073.5" y="567.4">Vehicle Roll Stbd (deg)</text>
<text x="1073.5" y="602.1">Roll Control (deg)</text>
<text x="1073.5" y="637.3">Glide Angle (buoy,pitch)</text>
<text x="1073.5" y="672.2">Buoyancy (10g)</text>
<text x="1073.5" y="707.5">VBD (10 cc)</text>
<text x="1073.5" y="743.1">Non-zero motor current</text>
<text x="1073.5" y="778.2">Roll to port</text>
<text x="1073.5" y="812.5">Roll to stbd</text>
<text x="1073.5" y="847.1">Pitch up</text>
<text x="1073.5" y="882.9">intended pitch</text>
<text x="1073.5" y="918">-intended pitch</text>
<text x="1073.5" y="955">w</text>
<text x="1095" y="968" font-size="20">d</text>
<text x="1073.5" y="998">-w</text>
<text x="1103.5" y="1011" font-size="20">d</text>
</g>
</svg>
</body></html>
